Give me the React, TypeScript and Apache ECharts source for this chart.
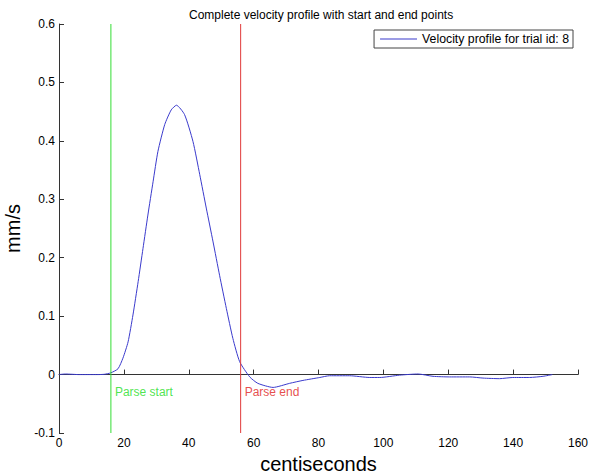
import React, { useEffect, useRef } from "react";
import * as echarts from "echarts";

const chartTitle = "Complete velocity profile with start and end points";
const seriesName = "Velocity profile for trial id: 8";
const xLabel = "centiseconds";
const yLabel = "mm/s";

const timeCs = [
  0, 2, 4, 6, 8, 10, 12, 14, 16, 18.2, 19.7, 21.3, 22.8, 24.4, 25.9, 27.4, 29.0,
  30.5, 32.6, 34.6, 36.2, 38.7, 41.3, 43.4, 45.4, 47.5, 49.5, 51.6, 53.6, 55.7,
  58.8, 61.3, 66, 71.1, 75.2, 80.4, 83.4, 89.6, 95.8, 98.9, 105, 110.7, 115.3,
  120.4, 126.6, 130.7, 135.8, 139.9, 145.1, 149.2, 152.1,
];
const velocity = [
  0, 0.001, 0.0005, 0, 0, 0, 0, 0.0005, 0.003, 0.01, 0.028, 0.056, 0.102, 0.159,
  0.216, 0.273, 0.33, 0.382, 0.428, 0.453, 0.461, 0.445, 0.399, 0.342, 0.285,
  0.227, 0.17, 0.113, 0.062, 0.022, -0.004, -0.015, -0.022, -0.015, -0.01,
  -0.005, -0.002, -0.002, -0.005, -0.005, -0.001, 0.001, -0.003, -0.004,
  -0.004, -0.006, -0.007, -0.005, -0.005, -0.003, 0.0,
];

const parseStart = 16;
const parseEnd = 56;
const markerLabelY = -0.03;
const yMin = -0.1;
const yMax = 0.6;

export default function App() {
  const ref = useRef<HTMLDivElement>(null);
  useEffect(() => {
    if (!ref.current) return;
    const chart = echarts.init(ref.current, null, { renderer: "svg" });
    const font = "'Liberation Sans', Arial, sans-serif";
    const data = timeCs.map((t, i) => [t, velocity[i]]);
    chart.setOption({
      animation: false,
      backgroundColor: "#fff",
      textStyle: { fontFamily: font },
      title: {
        text: chartTitle,
        left: 184,
        top: 4,
        textStyle: { fontSize: 12, fontWeight: "normal", color: "#000", fontFamily: font },
      },
      legend: {
        data: [seriesName],
        right: 16,
        top: 30,
        orient: "vertical",
        borderColor: "#444",
        borderWidth: 1,
        padding: [3, 4, 3, 6],
        icon: "rect",
        itemWidth: 37,
        itemHeight: 1,
        itemGap: 4,
        textStyle: { fontSize: 12.3, color: "#000", fontFamily: font, padding: [2, 0, 2, 0] },
      },
      grid: { left: 59, right: 11, top: 24, bottom: 41, outerBoundsMode: "none", containLabel: false },
      xAxis: {
        type: "value",
        min: 0,
        max: 160,
        interval: 20,
        name: xLabel,
        nameLocation: "middle",
        nameGap: 14,
        nameTextStyle: { fontSize: 20, color: "#000", fontFamily: font },
        axisLine: { show: true, lineStyle: { color: "#333" } },
        axisTick: { show: true, inside: true, length: 5, lineStyle: { color: "#333" } },
        axisLabel: { fontSize: 12, color: "#000", margin: 4, fontFamily: font },
        splitLine: { show: false },
      },
      yAxis: {
        type: "value",
        min: yMin,
        max: yMax,
        interval: 0.1,
        name: yLabel,
        nameLocation: "middle",
        nameGap: 21,
        nameTextStyle: { fontSize: 20, color: "#000", fontFamily: font },
        axisLine: { show: true, lineStyle: { color: "#333" } },
        axisTick: { show: true, inside: true, length: 5, lineStyle: { color: "#333" } },
        axisLabel: {
          fontSize: 12,
          color: "#000",
          margin: 4,
          fontFamily: font,
          formatter: (v: number) => {
            const r = Math.round(v * 10) / 10;
            return r === 0 ? "0" : String(r);
          },
        },
        splitLine: { show: false },
      },
      series: [
        {
          name: seriesName,
          type: "line",
          data,
          symbol: "none",
          smooth: 0.2,
          lineStyle: { color: "#3a3acc", width: 1 },
          itemStyle: { color: "#3a3acc" },
        },
        {
          name: "start",
          type: "line",
          data: [[parseStart, yMin], [parseStart, yMax]],
          symbol: "none",
          lineStyle: { color: "#33dd33", width: 1 },
          silent: true,
        },
        {
          name: "end",
          type: "line",
          data: [[parseEnd, yMin], [parseEnd, yMax]],
          symbol: "none",
          lineStyle: { color: "#e03a3a", width: 1 },
          silent: true,
        },
        {
          name: "startLabel",
          type: "scatter",
          data: [[parseStart, markerLabelY]],
          symbolSize: 0,
          label: {
            show: true,
            position: "right",
            distance: 4,
            formatter: "Parse start",
            color: "#22dd22",
            fontSize: 12,
            fontFamily: font,
          },
          silent: true,
        },
        {
          name: "endLabel",
          type: "scatter",
          data: [[parseEnd, markerLabelY]],
          symbolSize: 0,
          label: {
            show: true,
            position: "right",
            distance: 4,
            formatter: "Parse end",
            color: "#e02020",
            fontSize: 12,
            fontFamily: font,
          },
          silent: true,
        },
      ],
    });
    return () => chart.dispose();
  }, []);
  return <div ref={ref} style={{ width: 589, height: 474, position: "absolute", left: 0, top: 0 }} />;
}
